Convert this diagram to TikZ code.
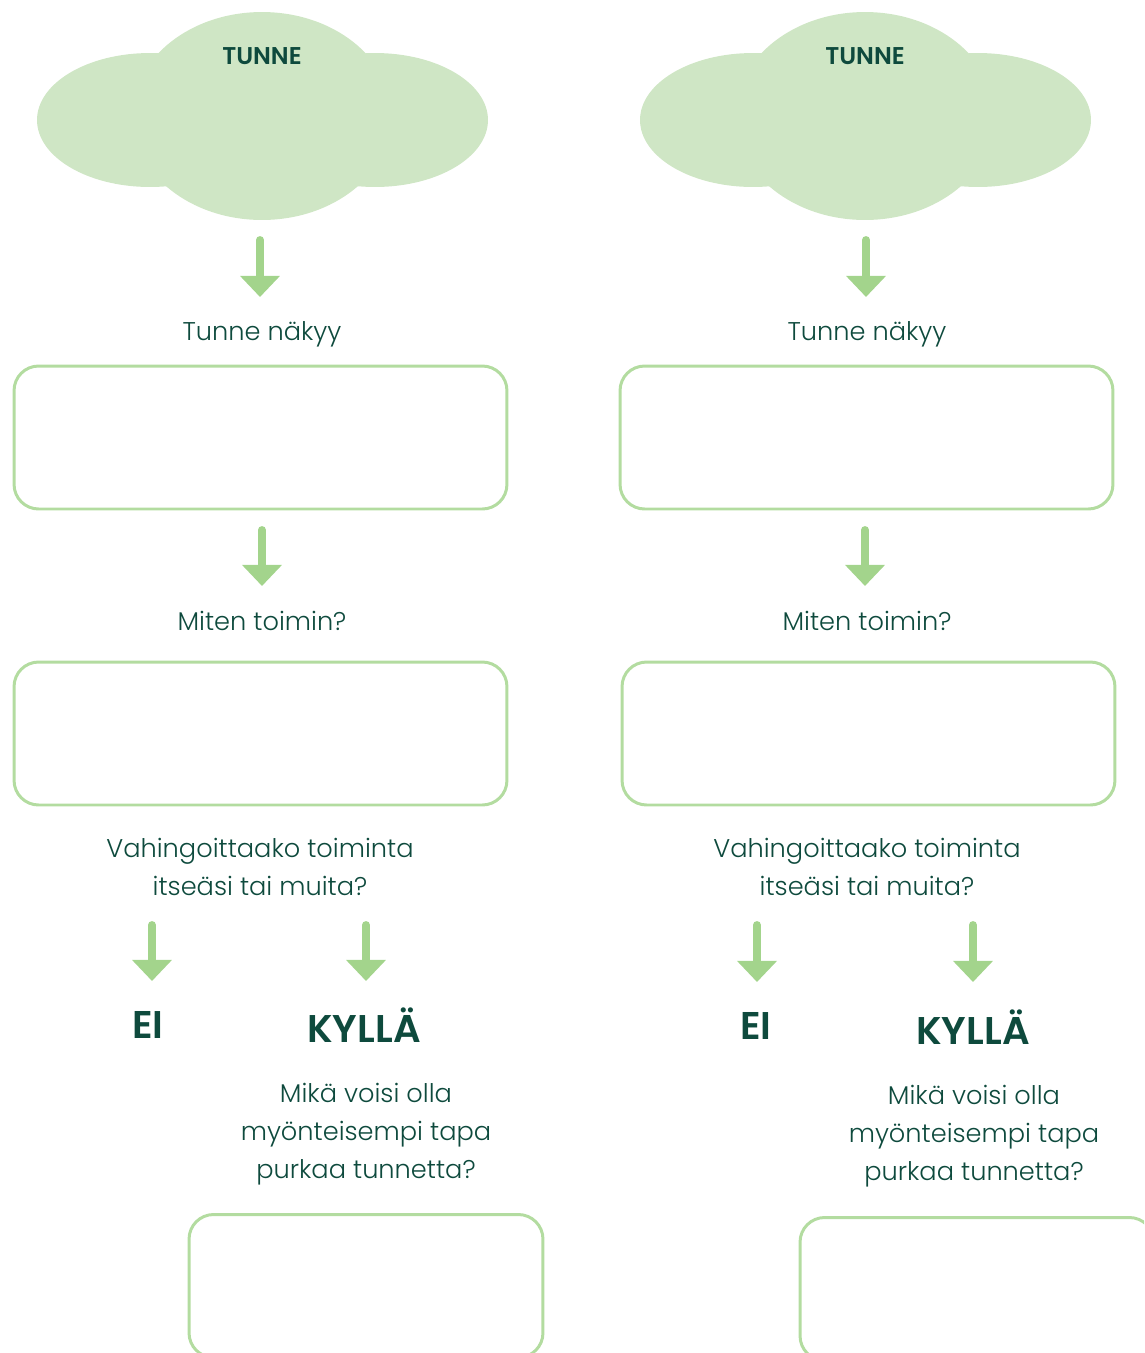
\documentclass[tikz,border=0pt]{standalone}
\usepackage{fontspec}
\setmainfont{Poppins Light}[BoldFont={Poppins SemiBold}]
\usetikzlibrary{arrows.meta}
\definecolor{cloudg}{HTML}{CFE6C5}
\definecolor{arrowg}{HTML}{A3D48C}
\definecolor{boxg}{HTML}{B3DCA0}
\definecolor{textg}{HTML}{0E4A3D}
\tikzset{
  arr/.style={draw=arrowg, line width=4.5pt, line cap=round,
    -{Triangle[width=22pt,length=12pt]}},
  boxnode/.style={draw=boxg, line width=1.7pt, rounded corners=14pt,
    minimum width=9.86cm, minimum height=2.86cm, inner sep=0pt},
  txt/.style={text=textg, font=\fontsize{14.6}{21.5}\selectfont, align=center, inner sep=0pt},
  head/.style={text=textg, font=\fontsize{13.8}{16}\selectfont\bfseries, inner sep=0pt},
  big/.style={text=textg, font=\fontsize{22}{26}\selectfont\bfseries, inner sep=0pt},
  pics/cloud/.style={code={
    \fill[cloudg] (-112,4) ellipse [x radius=2.26cm, y radius=1.34cm];
    \fill[cloudg] (113,4) ellipse [x radius=2.26cm, y radius=1.34cm];
    \fill[cloudg] (0,0) ellipse [x radius=2.6cm, y radius=2.08cm];
  }}
}
\begin{document}
\begin{tikzpicture}[x=0.02cm,y=-0.02cm]
\useasboundingbox (0,0) rectangle (1144,1353);
\clip (0,0) rectangle (1144,1353);
% ---------- left column ----------
\pic at (262,116) {cloud};
\node[head] (L0) at (262,56) {TUNNE};
\coordinate (La1s) at (260,240);
\coordinate (La1e) at (260,297);
\draw[arr] (La1s) -- (La1e);
\node[txt] (L1) at (262,334) {Tunne näkyy};
\node[boxnode] (LB1) at (260.5,437.5) {};
\coordinate (La2s) at (262,530);
\coordinate (La2e) at (262,586);
\draw[arr] (La2s) -- (La2e);
\node[txt] (L2) at (262,621) {Miten toimin?};
\node[boxnode] (LB2) at (260.5,733.5) {};
\node[txt] (L3) at (260,867) {Vahingoittaako toiminta\\itseäsi tai muita?};
\coordinate (La3s) at (152,925);
\coordinate (La3e) at (152,981);
\draw[arr] (La3s) -- (La3e);
\coordinate (La4s) at (366,925);
\coordinate (La4e) at (366,981);
\draw[arr] (La4s) -- (La4e);
\node[big] (LEI) at (148,1025) {EI};
\node[big] (LKY) at (364,1025) {KYLLÄ};
\node[txt] (L4) at (366,1134) {Mikä voisi olla\\myönteisempi tapa\\purkaa tunnetta?};
\node[boxnode, minimum width=7.08cm] (LB3) at (366,1286) {};
% ---------- right column ----------
\pic at (865,116) {cloud};
\node[head] (R0) at (865,56) {TUNNE};
\coordinate (Ra1s) at (866,240);
\coordinate (Ra1e) at (866,297);
\draw[arr] (Ra1s) -- (Ra1e);
\node[txt] (R1) at (867,334) {Tunne näkyy};
\node[boxnode] (RB1) at (866.5,437.5) {};
\coordinate (Ra2s) at (865,530);
\coordinate (Ra2e) at (865,586);
\draw[arr] (Ra2s) -- (Ra2e);
\node[txt] (R2) at (867,621) {Miten toimin?};
\node[boxnode] (RB2) at (868.5,733.5) {};
\node[txt] (R3) at (867,867) {Vahingoittaako toiminta\\itseäsi tai muita?};
\coordinate (Ra3s) at (757,925);
\coordinate (Ra3e) at (757,982);
\draw[arr] (Ra3s) -- (Ra3e);
\coordinate (Ra4s) at (973,925);
\coordinate (Ra4e) at (973,982);
\draw[arr] (Ra4s) -- (Ra4e);
\node[big] (REI) at (756,1026) {EI};
\node[big] (RKY) at (973,1027) {KYLLÄ};
\node[txt] (R4) at (974,1136) {Mikä voisi olla\\myönteisempi tapa\\purkaa tunnetta?};
\node[boxnode, minimum width=7.08cm] (RB3) at (977,1289) {};
\end{tikzpicture}
\end{document}
